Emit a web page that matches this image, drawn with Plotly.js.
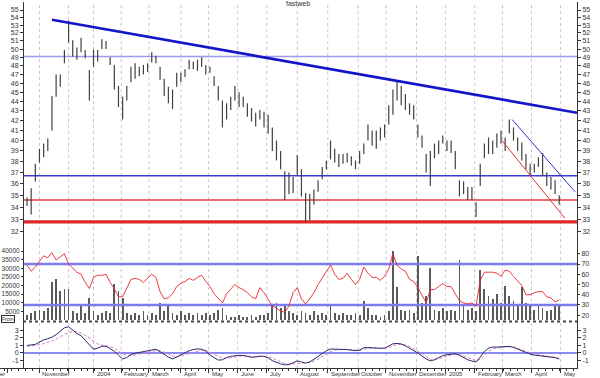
<!DOCTYPE html>
<html><head><meta charset="utf-8">
<script src="https://cdn.plot.ly/plotly-3.0.1.min.js"></script>
<style>html,body{margin:0;padding:0;background:#fff}#chart{width:600px;height:378px}</style>
</head><body><div id="chart"></div>
<script>
// ---- data (sampled every 3 trading days, starting late Oct 2003) ----
const step = 3;
const priceHigh = [
34.8,35.6,37.8,39.2,39.7,40.2,44.6,47.0,47.0,49.9,
53.6,51.1,50.2,51.4,49.9,47.5,49.9,49.9,51.2,51.0,
49.0,48.1,45.7,44.5,45.7,47.9,48.3,47.9,48.1,48.3,
49.6,49.2,47.9,46.5,45.6,45.3,47.2,47.2,47.6,48.7,
48.5,48.7,49.0,48.1,47.9,46.8,45.7,44.1,43.8,44.5,
45.7,45.0,44.5,43.8,43.3,42.8,43.1,42.9,42.6,41.3,
40.0,39.0,37.1,37.0,36.6,38.6,37.3,35.2,35.1,35.5,
36.3,37.5,38.1,40.0,39.2,38.7,38.7,38.8,38.5,38.1,
39.0,39.7,41.6,41.0,41.0,41.3,41.6,43.6,45.3,46.3,
45.7,44.8,43.8,43.6,41.6,40.5,38.7,39.0,39.7,40.0,
40.5,40.0,40.0,39.0,36.3,36.2,35.7,35.7,34.4,37.8,
39.7,40.3,40.0,40.7,41.0,40.3,42.1,41.3,40.3,39.8,
38.7,37.8,37.8,38.4,38.8,37.0,36.6,36.3,35.0];
const priceLow = [
34.1,33.4,36.2,37.9,38.4,39.0,41.0,44.5,45.6,48.3,
50.8,49.1,48.7,49.6,48.9,44.1,47.9,48.5,50.0,50.0,
48.1,45.3,43.4,42.1,44.1,46.1,46.5,46.8,47.0,47.3,
48.4,48.3,46.4,44.6,43.8,43.2,45.6,46.1,46.7,47.6,
47.6,47.4,47.9,47.0,47.2,45.7,44.1,41.3,42.1,43.1,
44.1,43.4,43.4,42.4,41.9,41.4,42.1,41.3,40.7,39.0,
38.1,37.3,34.6,35.1,35.2,36.8,34.9,32.8,32.9,34.2,
35.3,36.4,37.3,38.2,37.9,37.5,37.8,37.9,37.6,37.3,
37.8,38.7,40.0,39.5,39.2,40.0,40.3,41.6,42.6,44.1,
43.6,43.1,42.6,42.1,40.3,39.3,37.0,35.8,38.3,38.7,
39.7,39.0,38.8,37.3,34.9,35.1,34.6,34.6,33.2,35.8,
38.3,38.7,38.7,39.3,39.7,39.0,40.7,40.0,39.0,38.1,
37.3,36.7,37.0,37.5,36.7,35.8,35.5,35.1,34.2];
const volume = [
3000,4000,5000,6000,5000,7000,22000,24000,17000,18000,
18000,5000,4000,9000,4000,13000,5000,3000,4000,5000,
4000,21000,17000,13000,4000,3000,4000,3000,5000,3000,
4000,3000,10000,5000,8000,4000,3000,5000,3000,4000,
3000,4000,3000,4000,3000,4000,6000,7000,3000,2000,
2000,3000,2000,2000,3000,2000,3000,3000,4000,8000,
10000,7000,9000,5000,4000,3000,5000,4000,3000,5000,
3000,4000,3000,9000,4000,3000,4000,3000,3000,4000,
3000,11000,7000,3000,3000,2000,3000,5000,40000,19000,
6000,5000,6000,4000,37000,10000,14000,30000,6000,5000,
7000,5000,6000,5000,35000,8000,6000,7000,5000,29000,
18000,14000,12000,15000,10000,20000,14000,11000,9000,19000,
10000,8000,6000,9000,7000,5000,6000,8000,9000];
const rsi = [
69,63,67,73,78,76,81,74,77,80,
70,66,62,60,52,46,57,59,59,60,
52,46,38,38,47,55,56,55,52,56,
60,57,43,36,37,41,48,51,53,56,
54,57,59,53,48,41,36,32,41,46,
50,47,45,42,38,36,47,42,36,29,
27,24,23,29,42,47,36,31,36,42,
50,56,63,69,60,55,56,61,55,50,
55,67,61,57,57,54,58,65,80,69,
65,63,55,53,47,40,32,45,45,48,
51,48,48,41,34,32,31,32,29,54,
62,62,62,61,58,64,63,58,53,49,
40,40,42,43,43,38,37,33,35];
const macd = [
1.0,1.07,1.15,1.45,1.75,1.9,2.1,2.45,2.84,3.35,
3.5,3.0,2.6,2.3,1.7,1.05,0.5,0.65,0.88,0.9,
0.6,0.25,-0.3,-0.8,-0.6,-0.2,-0.04,0.08,0.15,0.25,
0.45,0.5,0.18,-0.2,-0.55,-0.8,-0.5,-0.2,0.05,0.3,
0.45,0.55,0.5,0.25,-0.27,-0.65,-0.95,-0.9,-0.6,-0.45,
-0.35,-0.31,-0.33,-0.49,-0.57,-0.52,-0.42,-0.45,-0.65,-1.02,
-1.25,-1.45,-1.58,-1.55,-1.3,-1.05,-1.2,-1.35,-1.2,-0.85,
-0.45,-0.05,0.3,0.53,0.53,0.5,0.49,0.45,0.38,0.31,
0.38,0.7,0.73,0.68,0.62,0.62,0.65,0.95,1.22,1.27,
1.2,0.95,0.65,0.35,0.0,-0.4,-0.8,-1.05,-0.9,-0.62,
-0.35,-0.22,-0.14,-0.1,-0.3,-0.6,-0.9,-1.08,-1.2,-0.55,
0.2,0.65,0.8,0.78,0.78,0.88,0.88,0.75,0.5,0.25,
0.0,-0.15,-0.28,-0.37,-0.42,-0.48,-0.55,-0.62,-0.8];
const signal = [
0.9,0.95,1.02,1.1,1.25,1.4,1.6,1.85,2.1,2.45,
2.75,2.85,2.8,2.65,2.35,1.95,1.5,1.2,1.05,0.98,
0.85,0.65,0.3,-0.1,-0.3,-0.33,-0.25,-0.12,0.0,0.1,
0.22,0.33,0.3,0.12,-0.12,-0.4,-0.5,-0.42,-0.25,-0.05,
0.15,0.3,0.4,0.35,0.1,-0.2,-0.5,-0.7,-0.72,-0.62,
-0.5,-0.42,-0.37,-0.4,-0.47,-0.5,-0.47,-0.45,-0.5,-0.7,
-0.95,-1.2,-1.4,-1.5,-1.45,-1.3,-1.25,-1.28,-1.25,-1.1,
-0.8,-0.45,-0.1,0.2,0.38,0.45,0.48,0.47,0.43,0.37,
0.36,0.5,0.62,0.66,0.65,0.63,0.63,0.75,0.98,1.12,
1.17,1.08,0.88,0.6,0.28,-0.1,-0.5,-0.82,-0.9,-0.8,
-0.58,-0.4,-0.27,-0.18,-0.22,-0.4,-0.65,-0.88,-1.05,-0.85,
-0.35,0.2,0.55,0.7,0.75,0.82,0.86,0.82,0.65,0.42,
0.18,0.0,-0.15,-0.27,-0.35,-0.42,-0.49,-0.56,-0.7];

// horizontal support/resistance levels
const levelLightBlue = 49.1;
const levelBlue = 36.7;
const levelRed = 34.6;
const levelRedThick = 32.8;
// trend lines (trading-day index, price)
const trendX = [18, 396.8], trendY = [53.7, 42.8];
const chanBlueX = [350, 395.4], chanBlueY = [42.1, 35.3];
const chanRedX = [342.7, 388], chanRedY = [40.0, 33.1];
const rsiLevels = [70, 30];

// axis ticks and labels
const priceTicks = [32,33,34,35,36,37,38,39,40,41,42,43,44,45,46,47,48,49,50,51,52,53,54,55];
const volTicks = [5000,10000,15000,20000,25000,30000,35000,40000];
const rsiTicks = [20,30,40,50,60,70,80];
const macdTicks = [-1,0,1,2,3];
const monthTicks = [-14,9,30,48,68,88,111,131,152,173,195,217,239,259,281,302,323,343,364,385];
const monthLabels = ["September","November","","2004","February","March","April","May","June","July","August","September","October","November","December","2005","February","March","April","May"];

// ---- layout geometry (pixels) ----
const W = 600, H = 378;
const pxLeft = 23, pxRight = 577, firstBarPx = 27, pxPerDay = 1.386;
const mainTop = 2, mainBot = 247, volBot = 322, macdBot = 368;
const xAt = px => (px - firstBarPx) / pxPerDay;
const xRange = [xAt(0), xAt(pxRight)];
const lineX = [xAt(pxLeft), xAt(pxRight)];
const k = 0.00244;
const yMainRange = [Math.log10(55) - (mainBot - 10) * k / Math.LN10, Math.log10(55) + (10 - mainTop) * k / Math.LN10];
const volRange = [-1159, 42319];
const rsiRange = [13.4, 86.6];
const macdRange = [-2.0, 4.13];
const fy = px => 1 - px / H;

const xs = priceHigh.map((_, i) => i * step);
const barX = [], barY = [];
xs.forEach((x, i) => { barX.push(x, x, null); barY.push(priceLow[i], priceHigh[i], null); });

const font = 'Liberation Sans, Arial, sans-serif';
const traces = [
  {x: lineX, y: [levelLightBlue, levelLightBlue], xaxis:'x', yaxis:'y', mode:'lines', line:{color:'#9a9af0', width:1.3}, hoverinfo:'skip'},
  {x: lineX, y: [levelBlue, levelBlue], xaxis:'x', yaxis:'y', mode:'lines', line:{color:'#3a3ad0', width:1.6}, hoverinfo:'skip'},
  {x: lineX, y: [levelRed, levelRed], xaxis:'x', yaxis:'y', mode:'lines', line:{color:'#e23a3a', width:1.6}, hoverinfo:'skip'},
  {x: lineX, y: [levelRedThick, levelRedThick], xaxis:'x', yaxis:'y', mode:'lines', line:{color:'#e02828', width:3.2}, hoverinfo:'skip'},
  {x: barX, y: barY, xaxis:'x', yaxis:'y', mode:'lines', line:{color:'#404040', width:1.2}, hoverinfo:'skip', connectgaps:false},
  {x: trendX, y: trendY, xaxis:'x', yaxis:'y5', mode:'lines', line:{color:'#1414c8', width:2.6}, hoverinfo:'skip'},
  {x: chanBlueX, y: chanBlueY, xaxis:'x', yaxis:'y5', mode:'lines', line:{color:'#3030d0', width:1}, hoverinfo:'skip'},
  {x: chanRedX, y: chanRedY, xaxis:'x', yaxis:'y5', mode:'lines', line:{color:'#e03030', width:1}, hoverinfo:'skip'},
  {type:'bar', x: xs, y: volume, xaxis:'x', yaxis:'y2', marker:{color:'#5a5a5a', line:{width:0}}, width:1.3, hoverinfo:'skip'},
  {x: lineX, y: [rsiLevels[0], rsiLevels[0]], xaxis:'x', yaxis:'y4', mode:'lines', line:{color:'#7c7cee', width:2.6}, hoverinfo:'skip'},
  {x: lineX, y: [rsiLevels[1], rsiLevels[1]], xaxis:'x', yaxis:'y4', mode:'lines', line:{color:'#7c7cee', width:2.6}, hoverinfo:'skip'},
  {x: xs, y: rsi, xaxis:'x', yaxis:'y4', mode:'lines', line:{color:'#e8262b', width:0.9}, hoverinfo:'skip'},
  {x: lineX, y: [0, 0], xaxis:'x', yaxis:'y3', mode:'lines', line:{color:'#8a8af0', width:2}, hoverinfo:'skip'},
  {x: xs, y: signal, xaxis:'x', yaxis:'y6', mode:'lines', line:{color:'#d97fb5', width:1, dash:'3px,2px'}, hoverinfo:'skip'},
  {x: xs, y: macd, xaxis:'x', yaxis:'y6', mode:'lines', line:{color:'#2a2a6a', width:1}, hoverinfo:'skip'}
];

const tf = {size:7, color:'#333', family:font};
const yBase = {ticks:'outside', ticklen:3, tickcolor:'#333', showline:true, linecolor:'#333', linewidth:1, showgrid:false, zeroline:false, tickfont:tf, tickmode:'array', fixedrange:true};

const shapes = monthTicks.slice(1).map(t => ({type:'line', xref:'x', yref:'paper', x0:t, x1:t, y0:fy(macdBot), y1:fy(mainTop), line:{color:'#c8c8c8', width:1, dash:'dot'}, layer:'below'}));
shapes.push({type:'line', xref:'paper', yref:'paper', x0:pxLeft/W, x1:pxRight/W, y0:fy(321.5), y1:fy(321.5), line:{color:'#444', width:2, dash:'dot'}});

const annotations = monthLabels.map((lab, i) => lab === "" ? null : ({
  xref:'x', yref:'paper', x: monthTicks[i], y: fy(374), xanchor: i === 0 ? 'right' : 'left', yanchor:'middle',
  xshift: i === 0 ? -1 : 1, text: lab, showarrow:false, font:{size:6, color:'#333', family:font}
})).filter(a => a);
annotations.push({xref:'paper', yref:'paper', x:1/W, y:fy(318.5), xanchor:'left', yanchor:'middle', text:'From', showarrow:false,
  font:{size:5, color:'#333', family:font}, bordercolor:'#333', borderwidth:1, borderpad:0});

const layout = {
  width: W, height: H, margin:{l:0, r:0, t:0, b:0}, paper_bgcolor:'#fff', plot_bgcolor:'rgba(0,0,0,0)',
  showlegend:false, font:{family:font, size:7, color:'#333'},
  title:{text:'fastweb', x:298/W, xanchor:'center', y:fy(4), yanchor:'middle', font:{size:7, color:'#333', family:font}},
  bargap:0,
  xaxis:{domain:[0, pxRight/W], range:xRange, anchor:'y3', tickmode:'array', tickvals:monthTicks, showticklabels:false,
    ticks:'outside', ticklen:4, tickcolor:'#333', showline:true, linecolor:'#333', linewidth:1, showgrid:false, zeroline:false, fixedrange:true,
    minor:{ticks:'outside', ticklen:2, tickcolor:'#333', dtick:5, tick0:9, showgrid:false}},
  yaxis: Object.assign({}, yBase, {domain:[fy(mainBot), fy(mainTop)], type:'log', range:yMainRange, anchor:'free', position:pxLeft/W, side:'left', tickvals:priceTicks, ticktext:priceTicks.map(String)}),
  yaxis5: Object.assign({}, yBase, {overlaying:'y', type:'log', range:yMainRange, anchor:'x', side:'right', tickvals:priceTicks, ticktext:priceTicks.map(String)}),
  yaxis2: Object.assign({}, yBase, {domain:[fy(volBot), fy(mainBot)], range:volRange, anchor:'free', position:pxLeft/W, side:'left', tickvals:volTicks, ticktext:volTicks.map(String), tickfont:{size:6.5, color:'#333', family:font}, ticklen:2}),
  yaxis4: Object.assign({}, yBase, {overlaying:'y2', range:rsiRange, anchor:'x', side:'right', tickvals:rsiTicks, ticktext:rsiTicks.map(String), ticklen:2}),
  yaxis3: Object.assign({}, yBase, {domain:[fy(macdBot), fy(volBot)], range:macdRange, anchor:'free', position:pxLeft/W, side:'left', tickvals:macdTicks, ticktext:macdTicks.map(String)}),
  yaxis6: Object.assign({}, yBase, {overlaying:'y3', range:macdRange, anchor:'x', side:'right', tickvals:macdTicks, ticktext:macdTicks.map(String)}),
  shapes: shapes,
  annotations: annotations
};

Plotly.newPlot('chart', traces, layout, {staticPlot:true, displayModeBar:false});
</script>
</body></html>
